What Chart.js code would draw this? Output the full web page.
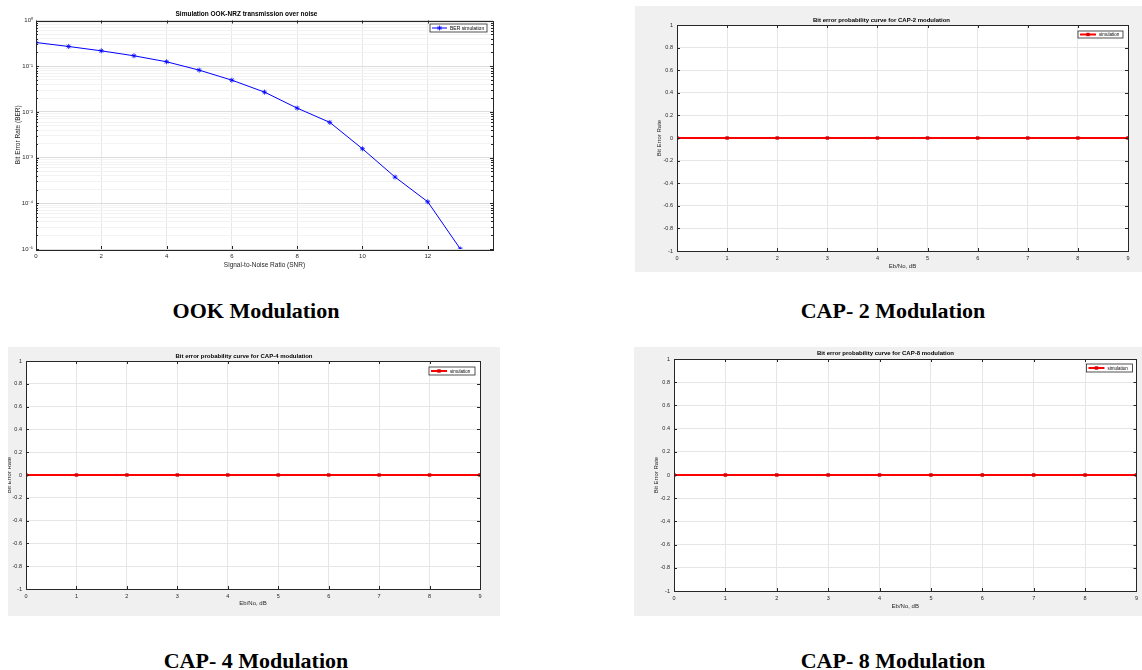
<!DOCTYPE html>
<html>
<head>
<meta charset="utf-8">
<script src="https://cdn.jsdelivr.net/npm/chart.js@4.4.0/dist/chart.umd.min.js"></script>
<style>
body{margin:0;width:1142px;height:670px;background:#fff;position:relative;overflow:hidden}
.fig{position:absolute}
.gray{background:#f0f0f0}
.cap{position:absolute;width:320px;text-align:center;font:bold 22px "Liberation Serif","Times New Roman",serif;line-height:22px;color:#000}
</style>
</head>
<body>
<div class="fig" style="left:0;top:0;width:500px;height:280px"><canvas id="ookChart"></canvas></div>
<div class="fig gray" style="left:635px;top:6px;width:507px;height:266px"><canvas id="cap2Chart"></canvas></div>
<div class="fig gray" style="left:8px;top:347px;width:492px;height:269px"><canvas id="cap4Chart"></canvas></div>
<div class="fig gray" style="left:634px;top:347px;width:508px;height:269px"><canvas id="cap8Chart"></canvas></div>

<div class="cap" style="left:96px;top:300px">OOK Modulation</div>
<div class="cap" style="left:733px;top:300px">CAP- 2 Modulation</div>
<div class="cap" style="left:96px;top:650px">CAP- 4 Modulation</div>
<div class="cap" style="left:733px;top:650px">CAP- 8 Modulation</div>

<script>
var FONT = '"Liberation Sans", Arial, sans-serif';
var AXIS_COLOR = '#262626';

// OOK-NRZ BER curve
var snr = [0, 1, 2, 3, 4, 5, 6, 7, 8, 9, 10, 11, 12, 13];
var berSim = [0.33, 0.27, 0.217, 0.169, 0.125, 0.082, 0.0495, 0.0271, 0.0121, 0.0059, 0.00156, 0.000375, 0.000108, 0.00001];
var ookXTicks = [0, 2, 4, 6, 8, 10, 12];
var ookDecades = [1e-5, 1e-4, 1e-3, 1e-2, 1e-1, 1];
var ookDecadeLabels = ['10\u207B\u2075', '10\u207B\u2074', '10\u207B\u00B3', '10\u207B\u00B2', '10\u207B\u00B9', '10\u2070'];

// CAP curves (all zero)
var ebNo = [0, 1, 2, 3, 4, 5, 6, 7, 8, 9];
var cap2Ber = [0, 0, 0, 0, 0, 0, 0, 0, 0, 0];
var cap4Ber = [0, 0, 0, 0, 0, 0, 0, 0, 0, 0];
var cap8Ber = [0, 0, 0, 0, 0, 0, 0, 0, 0, 0];
var capYTicks = [-1, -0.8, -0.6, -0.4, -0.2, 0, 0.2, 0.4, 0.6, 0.8, 1];

function isDecade(v) {
    var l = Math.log10(v);
    return Math.abs(l - Math.round(l)) < 1e-9;
}

// white axes, box, inward ticks and a matlab style legend
var matlabAxes = {
    id: 'matlabAxes',
    beforeDraw: function (chart) {
        var a = chart.chartArea, ctx = chart.ctx;
        ctx.save();
        ctx.fillStyle = '#fff';
        ctx.fillRect(a.left, a.top, a.right - a.left, a.bottom - a.top);
        ctx.restore();
    },
    afterDraw: function (chart, args, opts) {
        var a = chart.chartArea, ctx = chart.ctx;
        var xs = chart.scales.x, ys = chart.scales.y;
        ctx.save();
        ctx.strokeStyle = AXIS_COLOR;
        ctx.lineWidth = 1;
        ctx.beginPath();
        xs.ticks.forEach(function (t) {
            var px = Math.round(xs.getPixelForValue(t.value)) + 0.5;
            ctx.moveTo(px, a.bottom); ctx.lineTo(px, a.bottom - 3);
            ctx.moveTo(px, a.top); ctx.lineTo(px, a.top + 3);
        });
        ys.ticks.forEach(function (t) {
            var len = (ys.type === 'logarithmic' && !isDecade(t.value)) ? 2 : 3;
            var py = Math.round(ys.getPixelForValue(t.value)) + 0.5;
            ctx.moveTo(a.left, py); ctx.lineTo(a.left + len, py);
            ctx.moveTo(a.right, py); ctx.lineTo(a.right - len, py);
        });
        ctx.stroke();
        ctx.strokeRect(Math.round(a.left) + 0.5, Math.round(a.top) + 0.5, Math.round(a.right - a.left), Math.round(a.bottom - a.top));

        var L = opts.legend, ds = chart.data.datasets[0];
        var x1 = a.right - L.right - L.width, y1 = a.top + L.top, ym = y1 + L.height / 2;
        ctx.fillStyle = '#fff';
        ctx.fillRect(x1, y1, L.width, L.height);
        ctx.lineWidth = 0.8;
        ctx.strokeStyle = AXIS_COLOR;
        ctx.strokeRect(x1, y1, L.width, L.height);
        ctx.strokeStyle = ds.borderColor;
        ctx.lineWidth = ds.borderWidth;
        ctx.beginPath();
        ctx.moveTo(x1 + 2, ym); ctx.lineTo(x1 + 2 + L.line, ym);
        ctx.stroke();
        var mx = x1 + 2 + L.line / 2;
        if (ds.pointStyle === 'star') {
            ctx.lineWidth = 0.8;
            ctx.beginPath();
            ctx.moveTo(mx - 2.5, ym); ctx.lineTo(mx + 2.5, ym);
            ctx.moveTo(mx, ym - 2.5); ctx.lineTo(mx, ym + 2.5);
            ctx.moveTo(mx - 1.8, ym - 1.8); ctx.lineTo(mx + 1.8, ym + 1.8);
            ctx.moveTo(mx - 1.8, ym + 1.8); ctx.lineTo(mx + 1.8, ym - 1.8);
            ctx.stroke();
        } else {
            ctx.fillStyle = '#d40000';
            ctx.fillRect(mx - 1.7, ym - 1.7, 3.4, 3.4);
        }
        ctx.fillStyle = '#000';
        ctx.font = L.font + 'px ' + FONT;
        ctx.textBaseline = 'middle';
        ctx.fillText(ds.label, x1 + 5 + L.line, ym + 0.3);
        ctx.restore();
    }
};

function makeOptions(p) {
    return {
        responsive: true,
        maintainAspectRatio: false,
        animation: false,
        layout: {padding: {left: 0, right: p.padRight, top: 0, bottom: 0}},
        plugins: {
            legend: {display: false},
            tooltip: {enabled: false},
            title: {
                display: true, text: p.title, color: '#000',
                font: {family: FONT, size: p.titleSize, weight: 'bold', lineHeight: 1.2},
                padding: {top: p.titleTop, bottom: p.titleBottom}
            },
            matlabAxes: {legend: p.legend}
        },
        scales: {x: p.x, y: p.y}
    };
}

function capXScale(p) {
    return {
        type: 'linear', min: 0, max: 9,
        afterBuildTicks: function (s) { s.ticks = ebNo.map(function (v) { return {value: v}; }); },
        afterFit: function (s) { s.height = p.xHeight; },
        grid: {color: '#e6e6e6', drawTicks: false},
        border: {display: false},
        ticks: {color: AXIS_COLOR, font: {family: FONT, size: 5.5}, padding: 4, maxRotation: 0},
        title: {display: true, text: 'Eb/No, dB', color: AXIS_COLOR, font: {family: FONT, size: 6, lineHeight: 1.2}, padding: p.xTitlePad}
    };
}

function capYScale(p) {
    return {
        type: 'linear', min: -1, max: 1,
        afterBuildTicks: function (s) { s.ticks = capYTicks.map(function (v) { return {value: v}; }); },
        afterFit: function (s) { s.width = p.yWidth; },
        grid: {color: '#e6e6e6', drawTicks: false},
        border: {display: false},
        ticks: {
            color: AXIS_COLOR, font: {family: FONT, size: 5.5}, padding: 4,
            callback: function (v) { return String(Math.round(v * 10) / 10); }
        },
        title: {display: true, text: 'Bit Error Rate', color: AXIS_COLOR, font: {family: FONT, size: 6, lineHeight: 1.2}, padding: p.yTitlePad}
    };
}

function capDataset(values) {
    return {
        label: 'simulation',
        data: ebNo.map(function (x, i) { return {x: x, y: values[i]}; }),
        borderColor: '#ff0000',
        backgroundColor: '#d40000',
        borderWidth: 2,
        pointStyle: 'rect',
        pointRadius: 2.4,
        pointBorderWidth: 0,
        pointBackgroundColor: '#d40000'
    };
}

// OOK chart
new Chart(document.getElementById('ookChart'), {
    type: 'line',
    data: {
        datasets: [{
            label: 'BER simulation',
            data: snr.map(function (x, i) { return {x: x, y: berSim[i]}; }),
            borderColor: '#0000ff',
            backgroundColor: '#0000ff',
            borderWidth: 1,
            pointStyle: 'star',
            pointRadius: 2.5,
            pointBorderWidth: 0.8,
            tension: 0
        }]
    },
    options: makeOptions({
        title: 'Simulation OOK-NRZ transmission over noise',
        titleSize: 6.5, titleTop: 10.6, titleBottom: 2.1,
        padRight: 7,
        legend: {width: 57, height: 8, right: 6, top: 3.5, line: 15, font: 5},
        x: {
            type: 'linear', min: 0, max: 14,
            afterBuildTicks: function (s) { s.ticks = ookXTicks.map(function (v) { return {value: v}; }); },
            afterFit: function (s) { s.height = 31; },
            grid: {color: '#e8e8e8', drawTicks: false},
            border: {display: false},
            ticks: {color: AXIS_COLOR, font: {family: FONT, size: 6}, padding: 4, maxRotation: 0},
            title: {display: true, text: 'Signal-to-Noise Ratio (SNR)', color: AXIS_COLOR, font: {family: FONT, size: 6.5, lineHeight: 1.2}, padding: 11}
        },
        y: {
            type: 'logarithmic', min: 1e-5, max: 1,
            afterBuildTicks: function (s) {
                var t = [];
                for (var e = -5; e < 0; e++) {
                    for (var m = 1; m < 10; m++) t.push({value: m * Math.pow(10, e)});
                }
                t.push({value: 1});
                s.ticks = t;
            },
            afterFit: function (s) { s.width = 36; },
            grid: {
                drawTicks: false,
                color: function (c) { return c.tick && isDecade(c.tick.value) ? '#dcdcdc' : '#f3f3f3'; }
            },
            border: {display: false},
            ticks: {
                autoSkip: false, color: AXIS_COLOR, font: {family: FONT, size: 6}, padding: 3,
                callback: function (v) {
                    for (var i = 0; i < ookDecades.length; i++) {
                        if (Math.abs(Math.log10(v) - Math.log10(ookDecades[i])) < 1e-9) return ookDecadeLabels[i];
                    }
                    return '';
                }
            },
            title: {display: true, text: 'Bit Error Rate (BER)', color: AXIS_COLOR, font: {family: FONT, size: 6.5, lineHeight: 1.2}, padding: 14}
        }
    }),
    plugins: [matlabAxes]
});

// CAP-2
var p2 = {xHeight: 21, yWidth: 42, xTitlePad: 2.4, yTitlePad: 20.4};
new Chart(document.getElementById('cap2Chart'), {
    type: 'line',
    data: {datasets: [capDataset(cap2Ber)]},
    options: makeOptions({
        title: 'Bit error probability curve for CAP-2 modulation',
        titleSize: 6, titleTop: 10.4, titleBottom: 1.4,
        padRight: 14,
        legend: {width: 45, height: 7, right: 5, top: 6, line: 16, font: 4.5},
        x: capXScale(p2), y: capYScale(p2)
    }),
    plugins: [matlabAxes]
});

// CAP-4
var p4 = {xHeight: 27, yWidth: 18, xTitlePad: 9.4, yTitlePad: -2};
new Chart(document.getElementById('cap4Chart'), {
    type: 'line',
    data: {datasets: [capDataset(cap4Ber)]},
    options: makeOptions({
        title: 'Bit error probability curve for CAP-4 modulation',
        titleSize: 6, titleTop: 5.4, titleBottom: 1.4,
        padRight: 20,
        legend: {width: 46, height: 8, right: 5, top: 6, line: 16, font: 4.5},
        x: capXScale(p4), y: capYScale(p4)
    }),
    plugins: [matlabAxes]
});

// CAP-8
var p8 = {xHeight: 25, yWidth: 40, xTitlePad: 6.4, yTitlePad: 18.4};
new Chart(document.getElementById('cap8Chart'), {
    type: 'line',
    data: {datasets: [capDataset(cap8Ber)]},
    options: makeOptions({
        title: 'Bit error probability curve for CAP-8 modulation',
        titleSize: 6, titleTop: 2.4, titleBottom: 2.4,
        padRight: 5,
        legend: {width: 46, height: 8, right: 4, top: 5, line: 16, font: 4.5},
        x: capXScale(p8), y: capYScale(p8)
    }),
    plugins: [matlabAxes]
});
</script>
</body>
</html>
